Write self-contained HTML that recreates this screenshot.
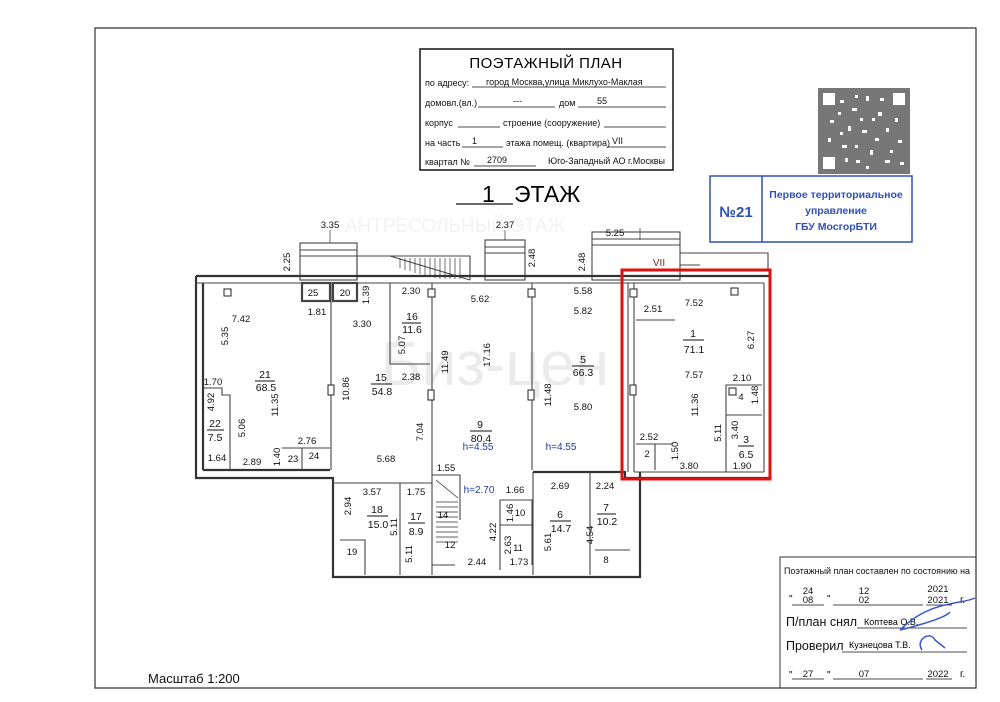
<!DOCTYPE html>
<html><head><meta charset="utf-8"><style>
body{margin:0;background:#fff;}
svg{display:block;font-family:"Liberation Sans","DejaVu Sans",sans-serif;}
.d{font-size:9.5px;fill:#111;text-anchor:middle;}
.n{font-size:10.5px;fill:#111;text-anchor:middle;}
.b{font-size:10px;fill:#223c9a;text-anchor:middle;}
.w{fill:none;stroke:#333;stroke-width:2.2;}
.t{fill:none;stroke:#444;stroke-width:1.1;}
.s{font-size:9px;fill:#111;}
</style></head><body>
<svg width="1000" height="702" viewBox="0 0 1000 702">
<rect x="0" y="0" width="1000" height="702" fill="#fff"/>
<path d="M95 28 H976 V688 H95 Z" fill="none" stroke="#333" stroke-width="1.2"/>

<rect x="420" y="49" width="253" height="121" fill="none" stroke="#111" stroke-width="1.5"/>
<text x="546" y="68" style="font-size:15px;text-anchor:middle;letter-spacing:0.5px">ПОЭТАЖНЫЙ ПЛАН</text>
<text x="425" y="86" class="s">по адресу:</text>
<text x="486" y="85" class="s">город Москва,улица Миклухо-Маклая</text>
<line x1="472" y1="87" x2="666" y2="87" stroke="#111" stroke-width="0.8"/>
<text x="425" y="106" class="s">домовл.(вл.)</text>
<line x1="478" y1="107" x2="555" y2="107" stroke="#111" stroke-width="0.8"/>
<text x="513" y="104" class="s">---</text>
<text x="559" y="106" class="s">дом</text>
<line x1="578" y1="107" x2="666" y2="107" stroke="#111" stroke-width="0.8"/>
<text x="597" y="104" class="s">55</text>
<text x="425" y="126" class="s">корпус</text>
<line x1="458" y1="127" x2="500" y2="127" stroke="#111" stroke-width="0.8"/>
<text x="503" y="126" class="s">строение (сооружение)</text>
<line x1="604" y1="127" x2="666" y2="127" stroke="#111" stroke-width="0.8"/>
<text x="425" y="146" class="s">на часть</text>
<line x1="462" y1="147" x2="503" y2="147" stroke="#111" stroke-width="0.8"/>
<text x="472" y="144" class="s">1</text>
<text x="506" y="146" class="s">этажа помещ. (квартира)</text>
<text x="612" y="144" class="s">VII</text>
<line x1="607" y1="147" x2="666" y2="147" stroke="#111" stroke-width="0.8"/>
<text x="425" y="165" class="s">квартал №</text>
<text x="487" y="163" class="s">2709</text>
<line x1="474" y1="166" x2="536" y2="166" stroke="#111" stroke-width="0.8"/>
<text x="548" y="164" class="s">Юго-Западный АО г.Москвы</text>

<text x="482" y="202" style="font-size:23px">1</text>
<line x1="456" y1="204" x2="513" y2="204" stroke="#111" stroke-width="1.2"/>
<text x="514" y="202" style="font-size:23px">ЭТАЖ</text>
<text x="455" y="232" style="font-size:19px;fill:#f2f2f2;text-anchor:middle">АНТРЕСОЛЬНЫЙ ЭТАЖ</text>

<!-- QR -->
<rect x="818" y="88" width="92" height="86" fill="#777"/>
<g fill="#fff">
<rect x="823" y="93" width="12" height="12"/><rect x="893" y="93" width="12" height="12"/><rect x="823" y="157" width="12" height="12"/>
<rect x="840" y="100" width="4" height="3"/><rect x="852" y="108" width="5" height="3"/><rect x="866" y="96" width="3" height="5"/>
<rect x="878" y="112" width="4" height="4"/><rect x="830" y="120" width="4" height="3"/><rect x="848" y="126" width="3" height="5"/>
<rect x="862" y="130" width="5" height="3"/><rect x="886" y="128" width="3" height="4"/><rect x="898" y="140" width="4" height="3"/>
<rect x="842" y="145" width="5" height="3"/><rect x="870" y="150" width="3" height="5"/><rect x="856" y="160" width="4" height="3"/>
<rect x="885" y="160" width="5" height="3"/><rect x="828" y="138" width="3" height="4"/><rect x="872" y="118" width="3" height="3"/>
<rect x="855" y="95" width="3" height="3"/><rect x="880" y="98" width="4" height="3"/><rect x="838" y="112" width="3" height="3"/>
<rect x="860" y="118" width="3" height="3"/><rect x="895" y="118" width="3" height="4"/><rect x="840" y="132" width="3" height="3"/>
<rect x="875" y="138" width="4" height="3"/><rect x="855" y="145" width="3" height="3"/><rect x="890" y="150" width="3" height="3"/>
<rect x="845" y="158" width="3" height="4"/><rect x="900" y="162" width="4" height="3"/><rect x="866" y="166" width="3" height="3"/>
</g>
<rect x="710" y="176" width="202" height="66" fill="#fff" stroke="#3050b8" stroke-width="1.5"/>
<line x1="762" y1="176" x2="762" y2="242" stroke="#3050b8" stroke-width="1.5"/>
<text x="736" y="217" style="font-size:15px;font-weight:bold;fill:#3050b8;text-anchor:middle">№21</text>
<text x="836" y="198" style="font-size:10.5px;font-weight:bold;fill:#3050b8;text-anchor:middle">Первое территориальное</text>
<text x="836" y="214" style="font-size:10.5px;font-weight:bold;fill:#3050b8;text-anchor:middle">управление</text>
<text x="836" y="230" style="font-size:10.5px;font-weight:bold;fill:#3050b8;text-anchor:middle">ГБУ МосгорБТИ</text>

<text x="495" y="385" style="font-size:62px;fill:#ebebeb;text-anchor:middle">Биз-цен</text>

<g class="t">
<rect x="300" y="243" width="57" height="37"/><line x1="300" y1="250" x2="357" y2="250"/><line x1="300" y1="256" x2="357" y2="256"/>
<path d="M357 280 V256 H470 V280"/>
<path d="M390 256 L470 280"/>
<rect x="485" y="240" width="40" height="40"/><line x1="485" y1="247" x2="525" y2="247"/><line x1="485" y1="253" x2="525" y2="253"/>
<rect x="592" y="232" width="88" height="48"/><line x1="592" y1="239" x2="680" y2="239"/><line x1="592" y1="245" x2="680" y2="245"/>
<path d="M680 253 H768 V270"/><line x1="680" y1="265" x2="700" y2="265"/>
</g>
<g stroke="#333" stroke-width="0.7">
<line x1="400" y1="258" x2="400" y2="268"/><line x1="405" y1="258" x2="405" y2="270"/><line x1="410" y1="258" x2="410" y2="271"/><line x1="415" y1="258" x2="415" y2="273"/><line x1="420" y1="258" x2="420" y2="274"/><line x1="425" y1="258" x2="425" y2="276"/><line x1="430" y1="258" x2="430" y2="277"/><line x1="435" y1="258" x2="435" y2="278"/><line x1="440" y1="258" x2="440" y2="279"/><line x1="445" y1="258" x2="445" y2="279"/><line x1="450" y1="258" x2="450" y2="279"/><line x1="455" y1="258" x2="455" y2="279"/><line x1="460" y1="258" x2="460" y2="279"/>
<line x1="330" y1="230" x2="330" y2="243"/><line x1="505" y1="230" x2="505" y2="240"/><line x1="640" y1="228" x2="640" y2="240"/>
</g>

<g class="w">
<path d="M196 276 H770 V478 H625 V472 H533"/>
<path d="M196 276 V478 H333 V577 H640 V472"/>
<line x1="203" y1="283" x2="203" y2="470"/>
<line x1="203" y1="470" x2="330" y2="470"/>
</g>
<g class="t" stroke-width="1.6">
<line x1="196" y1="283" x2="764" y2="283"/>
<line x1="331" y1="283" x2="331" y2="470"/>
<line x1="432" y1="283" x2="432" y2="475"/>
<line x1="532" y1="283" x2="532" y2="470"/>
<line x1="628" y1="283" x2="628" y2="472"/>
<line x1="634" y1="283" x2="634" y2="472"/>
<line x1="764" y1="283" x2="764" y2="472"/>
<line x1="634" y1="472" x2="764" y2="472"/>
<path d="M203 388 H222 V395 H230 V470"/>
<path d="M282 448 H330"/><line x1="302" y1="448" x2="302" y2="470"/>
<rect x="302" y="283" width="28" height="18" stroke-width="2.2"/>
<rect x="333" y="283" width="24" height="18" stroke-width="2.2"/>
<path d="M390 283 V364 H430"/>
<line x1="333" y1="483" x2="432" y2="483"/>
<line x1="400" y1="483" x2="400" y2="575"/>
<path d="M340 540 H365 V575"/>
<line x1="432" y1="475" x2="432" y2="575"/>
<path d="M432 475 H460 V520"/>
<path d="M432 565 H455"/>
<path d="M500 500 H532 V565"/><line x1="500" y1="500" x2="500" y2="570"/><line x1="500" y1="525" x2="532" y2="525"/>
<line x1="533" y1="472" x2="533" y2="575"/>
<line x1="590" y1="472" x2="590" y2="575"/>
<path d="M595 550 H630"/>
<line x1="636" y1="320" x2="675" y2="320"/>
<path d="M636 444 H673"/><line x1="655" y1="444" x2="655" y2="470"/>
<path d="M726 472 V385 H762"/><line x1="726" y1="415" x2="762" y2="415"/>
</g>
<g stroke="#333" stroke-width="0.8">
<line x1="436" y1="502" x2="458" y2="502"/><line x1="436" y1="507" x2="458" y2="507"/><line x1="436" y1="512" x2="458" y2="512"/><line x1="436" y1="517" x2="458" y2="517"/><line x1="436" y1="522" x2="458" y2="522"/><line x1="436" y1="527" x2="458" y2="527"/><line x1="436" y1="532" x2="458" y2="532"/><line x1="436" y1="537" x2="458" y2="537"/><line x1="436" y1="542" x2="458" y2="542"/>
<line x1="436" y1="480" x2="458" y2="498"/>
</g>
<g fill="#fff" stroke="#222" stroke-width="1">
<rect x="224" y="289" width="7" height="7"/><rect x="731" y="288" width="7" height="7"/>
<rect x="428" y="289" width="7" height="8"/><rect x="528" y="289" width="7" height="8"/><rect x="630" y="289" width="7" height="8"/>
<rect x="328" y="385" width="6" height="10"/><rect x="428" y="390" width="6" height="10"/><rect x="528" y="390" width="6" height="10"/><rect x="630" y="385" width="6" height="10"/>
<rect x="729" y="388" width="7" height="7"/>
</g>

<rect x="622" y="270" width="148" height="209" fill="none" stroke="#e01010" stroke-width="3"/>

<g class="d">
<text x="330" y="228">3.35</text><text x="505" y="228">2.37</text><text x="615" y="236">5.25</text>
<text x="290" y="262" transform="rotate(-90 290 262)">2.25</text>
<text x="535" y="258" transform="rotate(-90 535 258)">2.48</text>
<text x="585" y="262" transform="rotate(-90 585 262)">2.48</text>
<text x="313" y="296">25</text><text x="345" y="296">20</text>
<text x="369" y="295" transform="rotate(-90 369 295)">1.39</text>
<text x="317" y="315">1.81</text>
<text x="241" y="322">7.42</text>
<text x="228" y="336" transform="rotate(-90 228 336)">5.35</text>
<text x="278" y="405" transform="rotate(-90 278 405)">11.35</text>
<text x="213" y="385">1.70</text>
<text x="214" y="402" transform="rotate(-90 214 402)">4.92</text>
<text x="245" y="428" transform="rotate(-90 245 428)">5.06</text>
<text x="217" y="461">1.64</text><text x="252" y="465">2.89</text><text x="307" y="444">2.76</text>
<text x="280" y="457" transform="rotate(-90 280 457)">1.40</text>
<text x="293" y="462">23</text><text x="314" y="459">24</text>
<text x="362" y="327">3.30</text>
<text x="349" y="389" transform="rotate(-90 349 389)">10.86</text>
<text x="423" y="432" transform="rotate(-90 423 432)">7.04</text>
<text x="386" y="462">5.68</text>
<text x="411" y="294">2.30</text>
<text x="405" y="345" transform="rotate(-90 405 345)">5.07</text>
<text x="411" y="380">2.38</text>
<text x="480" y="302">5.62</text>
<text x="490" y="355" transform="rotate(-90 490 355)">17.16</text>
<text x="448" y="362" transform="rotate(-90 448 362)">11.49</text>
<text x="446" y="471">1.55</text><text x="515" y="493">1.66</text>
<text x="520" y="516">10</text>
<text x="513" y="513" transform="rotate(-90 513 513)">1.46</text>
<text x="496" y="532" transform="rotate(-90 496 532)">4.22</text>
<text x="511" y="545" transform="rotate(-90 511 545)">2.63</text>
<text x="518" y="551">11</text><text x="519" y="565">1.73</text><text x="477" y="565">2.44</text>
<text x="450" y="548">12</text><text x="443" y="518">14</text>
<text x="583" y="294">5.58</text><text x="583" y="314">5.82</text>
<text x="551" y="395" transform="rotate(-90 551 395)">11.48</text>
<text x="583" y="410">5.80</text>
<text x="560" y="489">2.69</text><text x="605" y="489">2.24</text>
<text x="551" y="542" transform="rotate(-90 551 542)">5.61</text>
<text x="593" y="535" transform="rotate(-90 593 535)">4.54</text>
<text x="606" y="563">8</text>
<text x="372" y="495">3.57</text><text x="416" y="495">1.75</text>
<text x="351" y="506" transform="rotate(-90 351 506)">2.94</text>
<text x="397" y="527" transform="rotate(-90 397 527)">5.11</text>
<text x="412" y="554" transform="rotate(-90 412 554)">5.11</text>
<text x="352" y="555">19</text>
<text x="694" y="306">7.52</text><text x="653" y="312">2.51</text>
<text x="754" y="340" transform="rotate(-90 754 340)">6.27</text>
<text x="694" y="378">7.57</text><text x="742" y="381">2.10</text>
<text x="741" y="400">4</text>
<text x="758" y="395" transform="rotate(-90 758 395)">1.48</text>
<text x="698" y="405" transform="rotate(-90 698 405)">11.36</text>
<text x="721" y="433" transform="rotate(-90 721 433)">5.11</text>
<text x="738" y="430" transform="rotate(-90 738 430)">3.40</text>
<text x="649" y="440">2.52</text><text x="647" y="457">2</text>
<text x="678" y="451" transform="rotate(-90 678 451)">1.50</text>
<text x="689" y="469">3.80</text><text x="742" y="469">1.90</text>
</g>
<g class="n">
<text x="265" y="378">21</text><line x1="255" y1="381" x2="275" y2="381" stroke="#111"/><text x="266" y="391">68.5</text>
<text x="215" y="427">22</text><line x1="207" y1="430" x2="224" y2="430" stroke="#111"/><text x="215" y="441">7.5</text>
<text x="381" y="381">15</text><line x1="371" y1="384" x2="392" y2="384" stroke="#111"/><text x="382" y="395">54.8</text>
<text x="412" y="320">16</text><line x1="402" y1="323" x2="421" y2="323" stroke="#111"/><text x="412" y="333">11.6</text>
<text x="480" y="428">9</text><line x1="470" y1="431" x2="492" y2="431" stroke="#111"/><text x="481" y="442">80.4</text>
<text x="583" y="363">5</text><line x1="572" y1="366" x2="594" y2="366" stroke="#111"/><text x="583" y="376">66.3</text>
<text x="693" y="337">1</text><line x1="683" y1="340" x2="704" y2="340" stroke="#111"/><text x="694" y="353">71.1</text>
<text x="746" y="443">3</text><line x1="738" y1="446" x2="754" y2="446" stroke="#111"/><text x="746" y="458">6.5</text>
<text x="377" y="513">18</text><line x1="367" y1="516" x2="388" y2="516" stroke="#111"/><text x="378" y="528">15.0</text>
<text x="416" y="520">17</text><line x1="408" y1="523" x2="425" y2="523" stroke="#111"/><text x="416" y="535">8.9</text>
<text x="560" y="518">6</text><line x1="550" y1="521" x2="571" y2="521" stroke="#111"/><text x="561" y="532">14.7</text>
<text x="606" y="511">7</text><line x1="597" y1="514" x2="616" y2="514" stroke="#111"/><text x="607" y="525">10.2</text>
</g>
<text x="478" y="450" class="b">h=4.55</text>
<text x="561" y="450" class="b">h=4.55</text>
<text x="479" y="493" class="b">h=2.70</text>
<text x="659" y="266" style="font-size:10px;fill:#8a1a1a;text-anchor:middle">VII</text>

<text x="148" y="683" style="font-size:13px;fill:#111">Масштаб 1:200</text>

<path d="M780 688 V557 H976" fill="none" stroke="#333" stroke-width="1"/>
<text x="784" y="574" style="font-size:9px;fill:#111" textLength="186" lengthAdjust="spacingAndGlyphs">Поэтажный план составлен по состоянию на</text>
<text x="789" y="602" style="font-size:10px">"</text>
<text x="808" y="594" class="d">24</text><text x="808" y="603" class="d">08</text>
<line x1="792" y1="605" x2="824" y2="605" stroke="#111" stroke-width="0.8"/>
<text x="827" y="602" style="font-size:10px">"</text>
<line x1="833" y1="605" x2="923" y2="605" stroke="#111" stroke-width="0.8"/>
<text x="864" y="594" class="d">12</text><text x="864" y="603" class="d">02</text>
<text x="938" y="592" class="d">2021</text><text x="938" y="603" class="d">2021</text>
<line x1="926" y1="605" x2="952" y2="605" stroke="#111" stroke-width="0.8"/>
<text x="960" y="603" style="font-size:10px">г.</text>
<text x="786" y="626" style="font-size:12.5px;fill:#111">П/план снял</text>
<line x1="857" y1="628" x2="967" y2="628" stroke="#111" stroke-width="0.8"/>
<text x="864" y="625" style="font-size:9px">Коптева О.В.</text>
<text x="786" y="650" style="font-size:12.5px;fill:#111">Проверил</text>
<line x1="842" y1="652" x2="967" y2="652" stroke="#111" stroke-width="0.8"/>
<text x="849" y="648" style="font-size:9px">Кузнецова Т.В.</text>
<path d="M900 630 C930 600 960 605 975 598 M900 630 C920 625 945 618 950 612 M922 650 C915 640 930 630 935 640 L945 648" fill="none" stroke="#3b59c6" stroke-width="1.5"/>
<text x="789" y="678" style="font-size:10px">"</text>
<text x="808" y="677" class="d">27</text>
<line x1="792" y1="679" x2="824" y2="679" stroke="#111" stroke-width="0.8"/>
<text x="827" y="678" style="font-size:10px">"</text>
<text x="864" y="677" class="d">07</text>
<line x1="833" y1="679" x2="923" y2="679" stroke="#111" stroke-width="0.8"/>
<text x="938" y="677" class="d">2022</text>
<line x1="926" y1="679" x2="952" y2="679" stroke="#111" stroke-width="0.8"/>
<text x="960" y="677" style="font-size:10px">г.</text>
</svg>
</body></html>
